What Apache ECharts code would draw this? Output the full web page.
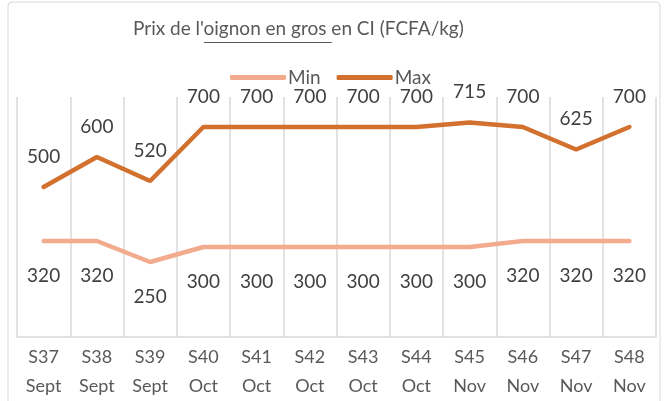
<!DOCTYPE html>
<html>
<head>
<meta charset="utf-8">
<script src="https://cdn.jsdelivr.net/npm/echarts@6/dist/echarts.min.js"></script>
<style>html,body{margin:0;padding:0;background:#fff}#c{width:667px;height:401px}</style>
</head>
<body>
<div id="c"></div>
<script>
var weeks = ['S37','S38','S39','S40','S41','S42','S43','S44','S45','S46','S47','S48'];
var months = ['Sept','Sept','Sept','Oct','Oct','Oct','Oct','Oct','Nov','Nov','Nov','Nov'];
var minValues = [320,320,250,300,300,300,300,300,300,320,320,320];
var maxValues = [500,600,520,700,700,700,700,700,715,700,625,700];

var FONT = 'Lato';
var TITLE_SIZE = 19;
var titleLeft = 133;
var cv = document.createElement('canvas').getContext('2d');
cv.font = TITLE_SIZE + 'px ' + FONT;
var uStart = titleLeft + cv.measureText("Prix de l'").width;
var uEnd = uStart + cv.measureText('oignon en gros ').width;

var categories = weeks.map(function(w,i){ return w + '\n' + months[i]; });
var chart = echarts.init(document.getElementById('c'), null, {renderer:'canvas'});
chart.setOption({
  backgroundColor:'#fff',
  animation:false,
  title:{
    text:"Prix de l'oignon en gros en CI (FCFA/kg)",
    left:titleLeft, top:19, padding:0,
    textStyle:{fontFamily:FONT,fontSize:TITLE_SIZE,fontWeight:'normal',color:'#595959'}
  },
  graphic:[
    {type:'rect',shape:{x:8,y:2,width:652,height:420,r:4},style:{fill:'none',stroke:'#D9D9D9',lineWidth:1}},
    {type:'line',shape:{x1:uStart,y1:42.5,x2:uEnd,y2:42.5},style:{stroke:'#595959',lineWidth:1}}
  ],
  legend:{
    left:225, top:63, itemWidth:56, itemHeight:5, itemGap:16,
    textStyle:{fontFamily:FONT,fontSize:19,color:'#595959',padding:[0,0,0,-3]},
    data:[{name:'Min',icon:'roundRect'},{name:'Max',icon:'roundRect'}]
  },
  grid:{left:17,right:11,top:97,bottom:58},
  xAxis:{
    type:'category', data:categories, boundaryGap:true,
    axisLine:{show:true,lineStyle:{color:'#D9D9D9',width:1.5}},
    axisTick:{show:false},
    splitLine:{show:true,lineStyle:{color:'#D9D9D9',width:1.5}},
    axisLabel:{fontFamily:FONT,fontSize:18,color:'#595959',lineHeight:29,margin:6,interval:0}
  },
  yAxis:{type:'value',min:0,max:800,show:false,splitLine:{show:false}},
  series:[
    {name:'Min',type:'line',data:minValues,symbol:'circle',symbolSize:0.01,showSymbol:true,
      lineStyle:{color:'#F3AB8E',width:4.5,cap:'round'},itemStyle:{color:'#F3AB8E'},
      label:{show:true,position:'bottom',distance:25,fontFamily:FONT,fontSize:19,color:'#404040'}},
    {name:'Max',type:'line',data:maxValues,symbol:'circle',symbolSize:0.01,showSymbol:true,
      lineStyle:{color:'#D2702E',width:4.5,cap:'round'},itemStyle:{color:'#D2702E'},
      label:{show:true,position:'top',distance:21,fontFamily:FONT,fontSize:19,color:'#404040'}}
  ]
});
</script>
</body>
</html>
